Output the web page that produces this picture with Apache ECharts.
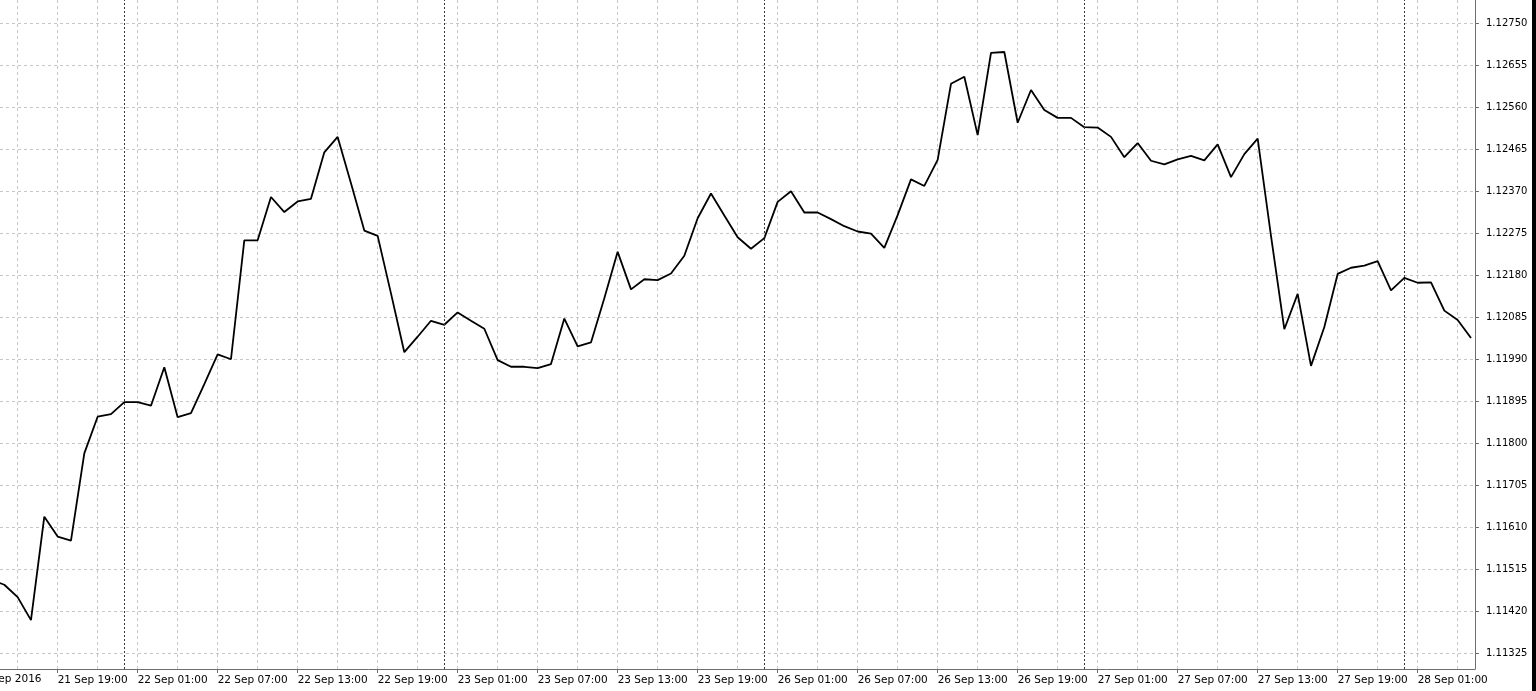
<!DOCTYPE html>
<html><head><meta charset="utf-8">
<script src="https://cdn.jsdelivr.net/npm/echarts@6/dist/echarts.min.js"></script>
<style>html,body{margin:0;padding:0;background:#fff;overflow:hidden}#c{width:1536px;height:691px}</style>
</head><body><div id="c"></div>
<script>
// Hourly close prices (EURUSD H1), per trading day, first hour given
const day21 = [1.11492, 1.11481, 1.11453, 1.11401, 1.11635, 1.11590, 1.11581, 1.11778, 1.11861, 1.11867];
const day22 = [1.11894, 1.11894, 1.11886, 1.11973, 1.11860, 1.11869, 1.11935, 1.12002, 1.11991, 1.12260, 1.12260, 1.12358,
               1.12324, 1.12348, 1.12354, 1.12459, 1.12494, 1.12389, 1.12282, 1.12270, 1.12140, 1.12007, 1.12042, 1.12078];
const day23 = [1.12069, 1.12097, 1.12078, 1.12060, 1.11989, 1.11974, 1.11974, 1.11971, 1.11980, 1.12083, 1.12020, 1.12029,
               1.12129, 1.12234, 1.12149, 1.12172, 1.12170, 1.12185, 1.12225, 1.12310, 1.12366, 1.12316, 1.12267, 1.12241];
const day26 = [1.12265, 1.12347, 1.12371, 1.12323, 1.12323, 1.12308, 1.12292, 1.12280, 1.12275, 1.12243, 1.12317, 1.12398,
               1.12383, 1.12442, 1.12614, 1.12630, 1.12498, 1.12684, 1.12686, 1.12526, 1.12600, 1.12555, 1.12537, 1.12537];
const day27 = [1.12516, 1.12515, 1.12494, 1.12448, 1.12480, 1.12440, 1.12432, 1.12443, 1.12451, 1.12441, 1.12477, 1.12403,
               1.12455, 1.12490, 1.12270, 1.12059, 1.12139, 1.11976, 1.12064, 1.12184, 1.12198, 1.12203, 1.12213, 1.12147];
const day28 = [1.12175, 1.12164, 1.12165, 1.12101, 1.12080, 1.12039];
const days = [['21 Sep', 14, day21], ['22 Sep', 0, day22], ['23 Sep', 0, day23],
              ['26 Sep', 0, day26], ['27 Sep', 0, day27], ['28 Sep', 0, day28]];
const firstLabel = '21 Sep 2016';
const yTicks = [1.11325, 1.11420, 1.11515, 1.11610, 1.11705, 1.11800, 1.11895, 1.11990,
                1.12085, 1.12180, 1.12275, 1.12370, 1.12465, 1.12560, 1.12655, 1.12750];

// build category list (one per hourly bar)
const names = [], hours = [], data = [];
days.forEach(([d, h0, arr]) => {
  arr.forEach((p, k) => {
    const h = h0 + k;
    names.push(d + ' ' + String(h).padStart(2, '0') + ':00');
    hours.push(h);
    data.push([names.length - 1, p]);
  });
});
const labelIdx = [], gridIdx = [], sepIdx = [];
hours.forEach((h, i) => {
  if (h % 6 === 1) labelIdx.push(i);
  if (h % 3 === 1) gridIdx.push(i);
  if (h === 0) sepIdx.push(i);
});

const FONT = 'DejaVu Sans';
const X_MIN = 0.677, X_MAX = 111.30;
const Y_MIN = 1.112904, Y_MAX = 1.128036;
const gridLine = {color: '#c6c6c6', type: [3, 3], width: 1};

const chart = echarts.init(document.getElementById('c'), null, {renderer: 'canvas'});
chart.setOption({
  animation: false,
  backgroundColor: '#ffffff',
  grid: {left: 0, right: 61, top: 0, bottom: 22, containLabel: false},
  xAxis: [
    {type: 'value', min: X_MIN, max: X_MAX, position: 'bottom',
     axisLine: {show: false}, axisTick: {show: false, customValues: gridIdx},
     axisLabel: {show: false}, splitLine: {show: true, lineStyle: gridLine}},
    {type: 'value', min: X_MIN, max: X_MAX, position: 'bottom',
     axisLine: {show: true, onZero: false, lineStyle: {color: '#6e6e6e', width: 1}},
     axisTick: {show: true, customValues: labelIdx, length: 4, lineStyle: {color: '#6e6e6e'}},
     axisLabel: {customValues: labelIdx, formatter: v => names[Math.round(v)], align: 'left',
                 margin: 6, fontFamily: FONT, fontSize: 10.5, color: '#000'},
     splitLine: {show: false}}
  ],
  yAxis: {type: 'value', position: 'right', min: Y_MIN, max: Y_MAX,
          axisLine: {show: true, lineStyle: {color: '#6e6e6e', width: 1}},
          axisTick: {show: true, customValues: yTicks, length: 4, lineStyle: {color: '#6e6e6e'}},
          axisLabel: {customValues: yTicks, formatter: v => v.toFixed(5), margin: 11,
                      fontFamily: FONT, fontSize: 10, color: '#000'},
          splitLine: {show: true, lineStyle: gridLine}},
  graphic: [
    {type: 'text', left: -25, top: 674, silent: true,
     style: {text: firstLabel, font: '10.5px "DejaVu Sans"', fill: '#000'}},
    {type: 'rect', right: 0, top: 0, silent: true, shape: {width: 4, height: 691}, style: {fill: '#000'}}
  ],
  series: [{
    type: 'line', xAxisIndex: 1, data: data, symbol: 'none', showSymbol: false,
    lineStyle: {color: '#000', width: 1.8}, clip: true,
    markLine: {silent: true, symbol: ['none', 'none'], label: {show: false},
               lineStyle: {color: '#3a3a3a', type: [2, 2], width: 1},
               data: sepIdx.map(i => ({xAxis: i}))}
  }]
});
</script></body></html>
